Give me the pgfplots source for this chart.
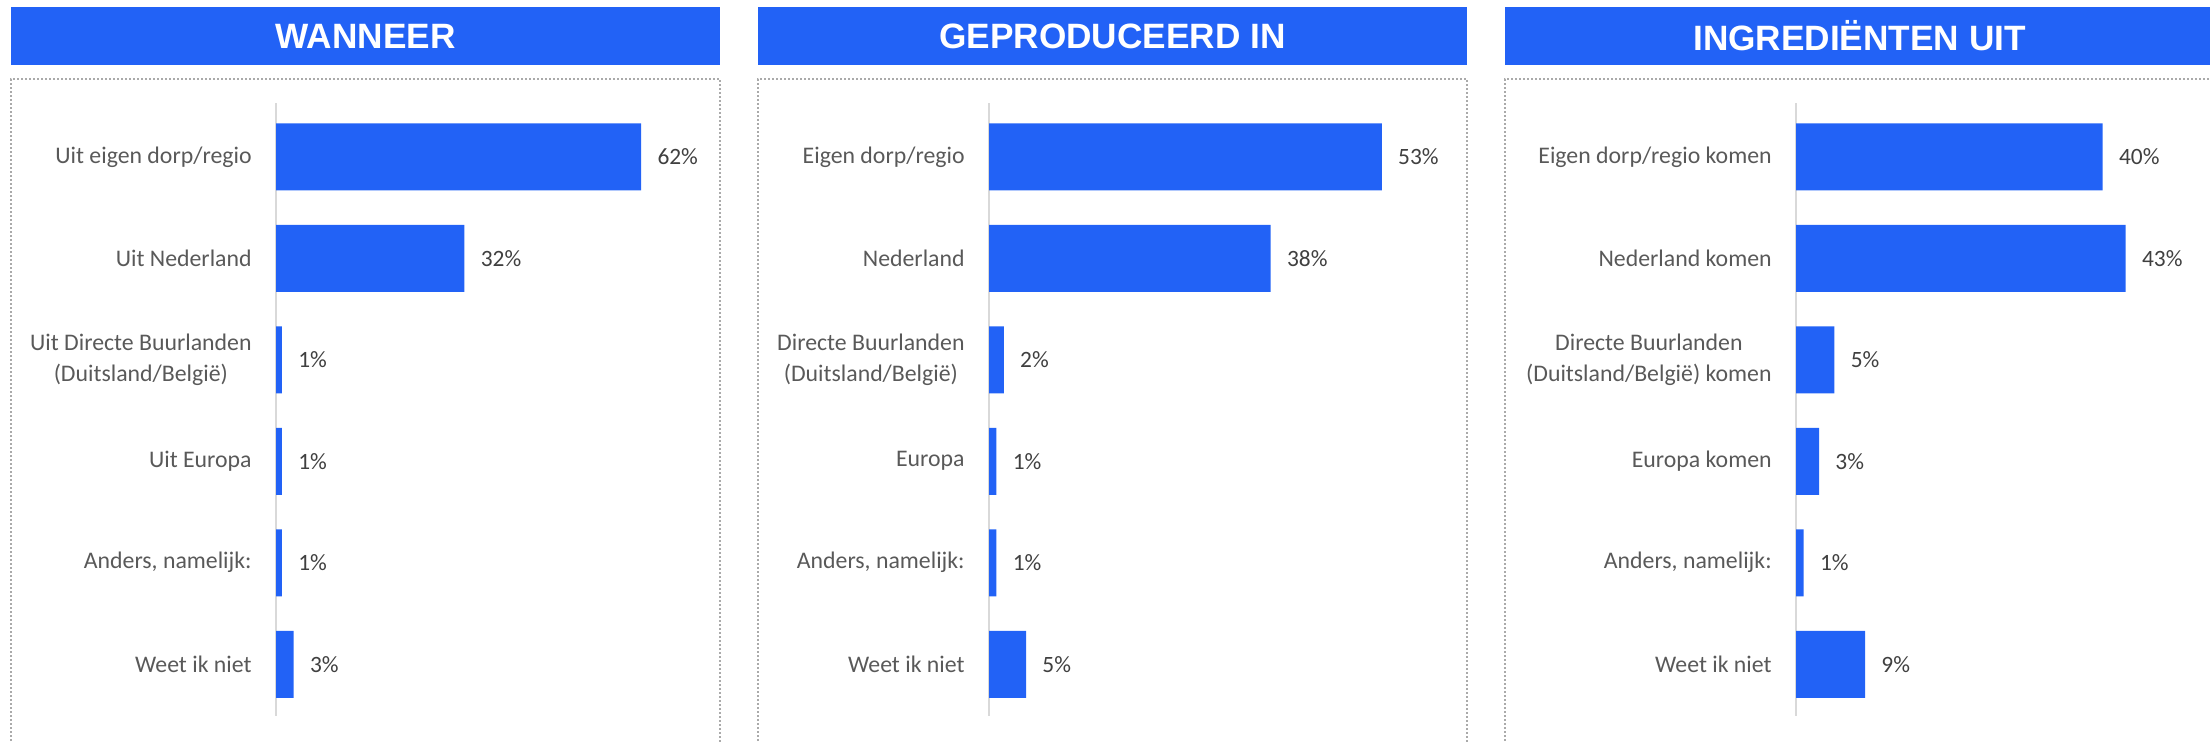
\documentclass[border=0pt]{standalone}
\usepackage{fontspec}
\setmainfont{Carlito}
\newfontfamily\headfont{Liberation Sans}
\usepackage{pgfplots}
\pgfplotsset{compat=1.18}
\definecolor{barblue}{RGB}{34,98,246}
\definecolor{labgray}{RGB}{89,89,89}
\definecolor{valgray}{RGB}{64,64,64}
\definecolor{axgray}{RGB}{217,217,217}
\definecolor{dotgray}{RGB}{170,170,170}
\pgfplotsset{panel/.style={
  scale only axis, anchor=south west,
  xbar, bar width=33.5pt,
  xmin=0, ymin=-0.53, ymax=5.51, y dir=reverse,
  hide x axis, axis y line*=left,
  y axis line style={axgray, line width=1pt},
  ytick={0,...,5}, major tick length=0pt,
  yticklabel style={font=\fontsize{11.9}{15.8}\selectfont, text=labgray, align=center, inner xsep=0pt, xshift=-12pt},
  point meta=x,
  nodes near coords={\pgfmathprintnumber{\pgfplotspointmeta}\%},
  nodes near coords style={font=\fontsize{11.7}{14}\selectfont, text=valgray, anchor=west, inner xsep=0pt, xshift=8pt},
  /pgf/number format/assume math mode=true,
  height=306.5pt,
  clip=false,
}}
\begin{document}
\begin{tikzpicture}
\useasboundingbox (0pt,0pt) rectangle (1105pt,370.5pt);
% headers
\fill[barblue] (5.5pt,338pt) rectangle (360pt,367pt);
\node[text=white, font=\headfont\bfseries\fontsize{17.6}{20}\selectfont] at (182.75pt,352.5pt) {WANNEER};
\fill[barblue] (379pt,338pt) rectangle (733.5pt,367pt);
\node[text=white, font=\headfont\bfseries\fontsize{17.6}{20}\selectfont] at (556.25pt,352.5pt) {GEPRODUCEERD IN};
\fill[barblue] (752.5pt,338pt) rectangle (1107pt,367pt);
\node[text=white, font=\headfont\bfseries\fontsize{17.6}{20}\selectfont] at (929.75pt,352.5pt) {INGREDIËNTEN UIT};
% dotted boxes
\draw[dotgray, line width=1pt, dash pattern=on 1pt off 1pt] (5.5pt,-2pt) -- (5.5pt,331pt) -- (360pt,331pt) -- (360pt,-2pt);
\draw[dotgray, line width=1pt, dash pattern=on 1pt off 1pt] (379pt,-2pt) -- (379pt,331pt) -- (733.5pt,331pt) -- (733.5pt,-2pt);
\draw[dotgray, line width=1pt, dash pattern=on 1pt off 1pt] (752.5pt,-2pt) -- (752.5pt,331pt) -- (1107pt,331pt) -- (1107pt,-2pt);

\begin{axis}[panel, at={(138pt,12.5pt)}, width=222pt, xmax=75.4,
  yticklabels={Uit eigen dorp/regio, Uit Nederland, {Uit Directe Buurlanden\\(Duitsland/België)}, Uit Europa, {Anders, namelijk:}, Weet ik niet}]
\addplot[fill=barblue, draw=none] coordinates {(62,0) (32,1) (1,2) (1,3) (1,4) (3,5)};
\end{axis}

\begin{axis}[panel, at={(494.5pt,12.5pt)}, width=239pt, xmax=64.5,
  yticklabels={Eigen dorp/regio, Nederland, {Directe Buurlanden\\(Duitsland/België)}, Europa, {Anders, namelijk:}, Weet ik niet}]
\addplot[fill=barblue, draw=none] coordinates {(53,0) (38,1) (2,2) (1,3) (1,4) (5,5)};
\end{axis}

\begin{axis}[panel, at={(898pt,12.5pt)}, width=207pt, xmax=54,
  yticklabels={Eigen dorp/regio komen, Nederland komen, {Directe Buurlanden\\(Duitsland/België) komen}, Europa komen, {Anders, namelijk:}, Weet ik niet}]
\addplot[fill=barblue, draw=none] coordinates {(40,0) (43,1) (5,2) (3,3) (1,4) (9,5)};
\end{axis}
\end{tikzpicture}
\end{document}
